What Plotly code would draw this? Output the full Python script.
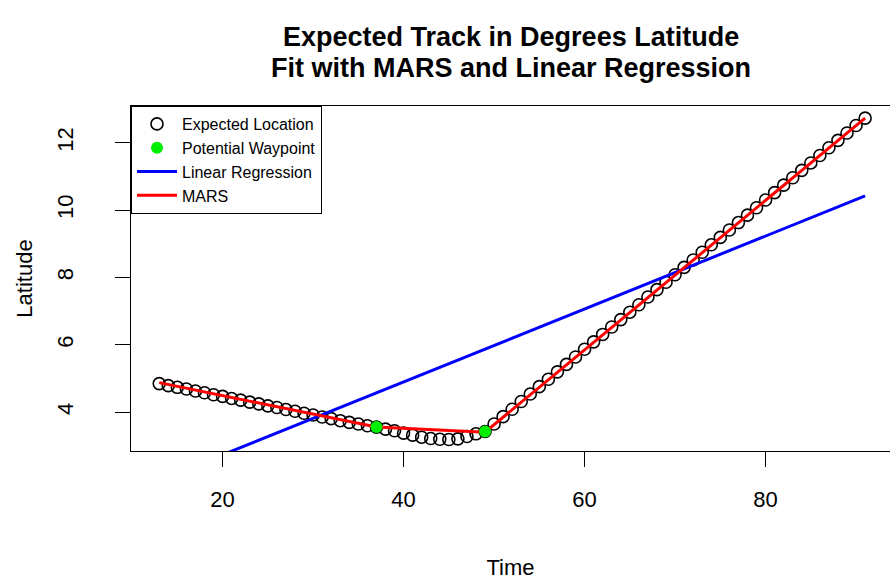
import plotly.graph_objects as go

# Expected track: time step and latitude (degrees)
time = list(range(13, 92))
latitude = [
    4.85, 4.79, 4.74, 4.69, 4.63, 4.58, 4.52, 4.47, 4.41, 4.36,
    4.30, 4.25, 4.19, 4.14, 4.08, 4.03, 3.97, 3.92, 3.86, 3.81,
    3.75, 3.70, 3.65, 3.60, 3.56,
    3.50, 3.45, 3.38, 3.32, 3.26, 3.22, 3.20, 3.19, 3.21, 3.28, 3.36, 3.43,
    3.65, 3.87, 4.09, 4.32, 4.54, 4.76, 4.98, 5.20, 5.42, 5.64,
    5.87, 6.09, 6.31, 6.53, 6.75, 6.97, 7.19, 7.42, 7.64, 7.86,
    8.08, 8.30, 8.52, 8.75, 8.97, 9.19, 9.41, 9.63, 9.85, 10.07,
    10.30, 10.52, 10.74, 10.96, 11.18, 11.40, 11.62, 11.85, 12.07, 12.29,
    12.51, 12.73,
]

# Potential waypoints (MARS knots)
waypoint_time = [37, 49]
waypoint_lat = [3.56, 3.43]

# Linear regression fit evaluated at the ends of the track
lr_time = [13, 91]
lr_lat = [1.98, 10.42]

# MARS fit: piecewise linear through its hinges
mars_time = [13, 37, 49, 91]
mars_lat = [4.88, 3.56, 3.41, 12.73]

x_ticks = [20, 40, 60, 80]
y_ticks = [4, 6, 8, 10, 12]

title_lines = ["Expected Track in Degrees Latitude",
               "Fit with MARS and Linear Regression"]

FONT = "Liberation Sans, Arial, Helvetica, sans-serif"

fig = go.Figure()

fig.add_trace(go.Scatter(
    x=time, y=latitude, mode="markers", name="Expected Location",
    marker=dict(symbol="circle-open", size=12, color="black",
                line=dict(width=1.6, color="black")),
    legendrank=1,
))
fig.add_trace(go.Scatter(
    x=lr_time, y=lr_lat, mode="lines", name="Linear Regression",
    line=dict(color="#0000ff", width=3), legendrank=3,
))
fig.add_trace(go.Scatter(
    x=mars_time, y=mars_lat, mode="lines", name="MARS",
    line=dict(color="#ff0000", width=3), legendrank=4,
))
fig.add_trace(go.Scatter(
    x=waypoint_time, y=waypoint_lat, mode="markers", name="Potential Waypoint",
    marker=dict(symbol="circle", size=12, color="#00ee00"),
    legendrank=2,
))

# Two-line bold title, one annotation per line
for i, line in enumerate(title_lines):
    fig.add_annotation(
        text=f"<b>{line}</b>", xref="paper", yref="paper",
        x=0.5, y=1, xanchor="center", yanchor="middle",
        yshift=(106 - 37) - 31 * i, showarrow=False,
        font=dict(size=27, family=FONT, color="black"),
    )

fig.update_layout(
    width=890, height=580,
    margin=dict(l=131, r=0, t=106, b=129),
    paper_bgcolor="white", plot_bgcolor="white",
    font=dict(family=FONT, color="black", size=22),
    showlegend=True,
    legend=dict(
        x=0, y=1, xanchor="left", yanchor="top",
        bgcolor="white", bordercolor="black", borderwidth=1,
        font=dict(size=16, family=FONT, color="black"),
        tracegroupgap=0, itemwidth=40,
    ),
    xaxis=dict(
        range=[9.88, 93.75], tickvals=x_ticks, ticks="outside", ticklen=15,
        tickcolor="black", showline=True, linecolor="black", linewidth=1,
        mirror=True, showgrid=False, zeroline=False,
        ticklabelstandoff=14,
        title=dict(text="Time", standoff=48, font=dict(size=22)),
        tickfont=dict(size=22),
    ),
    yaxis=dict(
        range=[2.85, 13.09], tickvals=y_ticks, ticks="outside", ticklen=15,
        tickcolor="black", showline=True, linecolor="black", linewidth=1,
        mirror=False, showgrid=False, zeroline=False, tickangle=-90,
        ticklabelstandoff=33,
        title=dict(text="Latitude", standoff=14, font=dict(size=22)),
        tickfont=dict(size=22),
    ),
)

fig.write_html("out.html")
